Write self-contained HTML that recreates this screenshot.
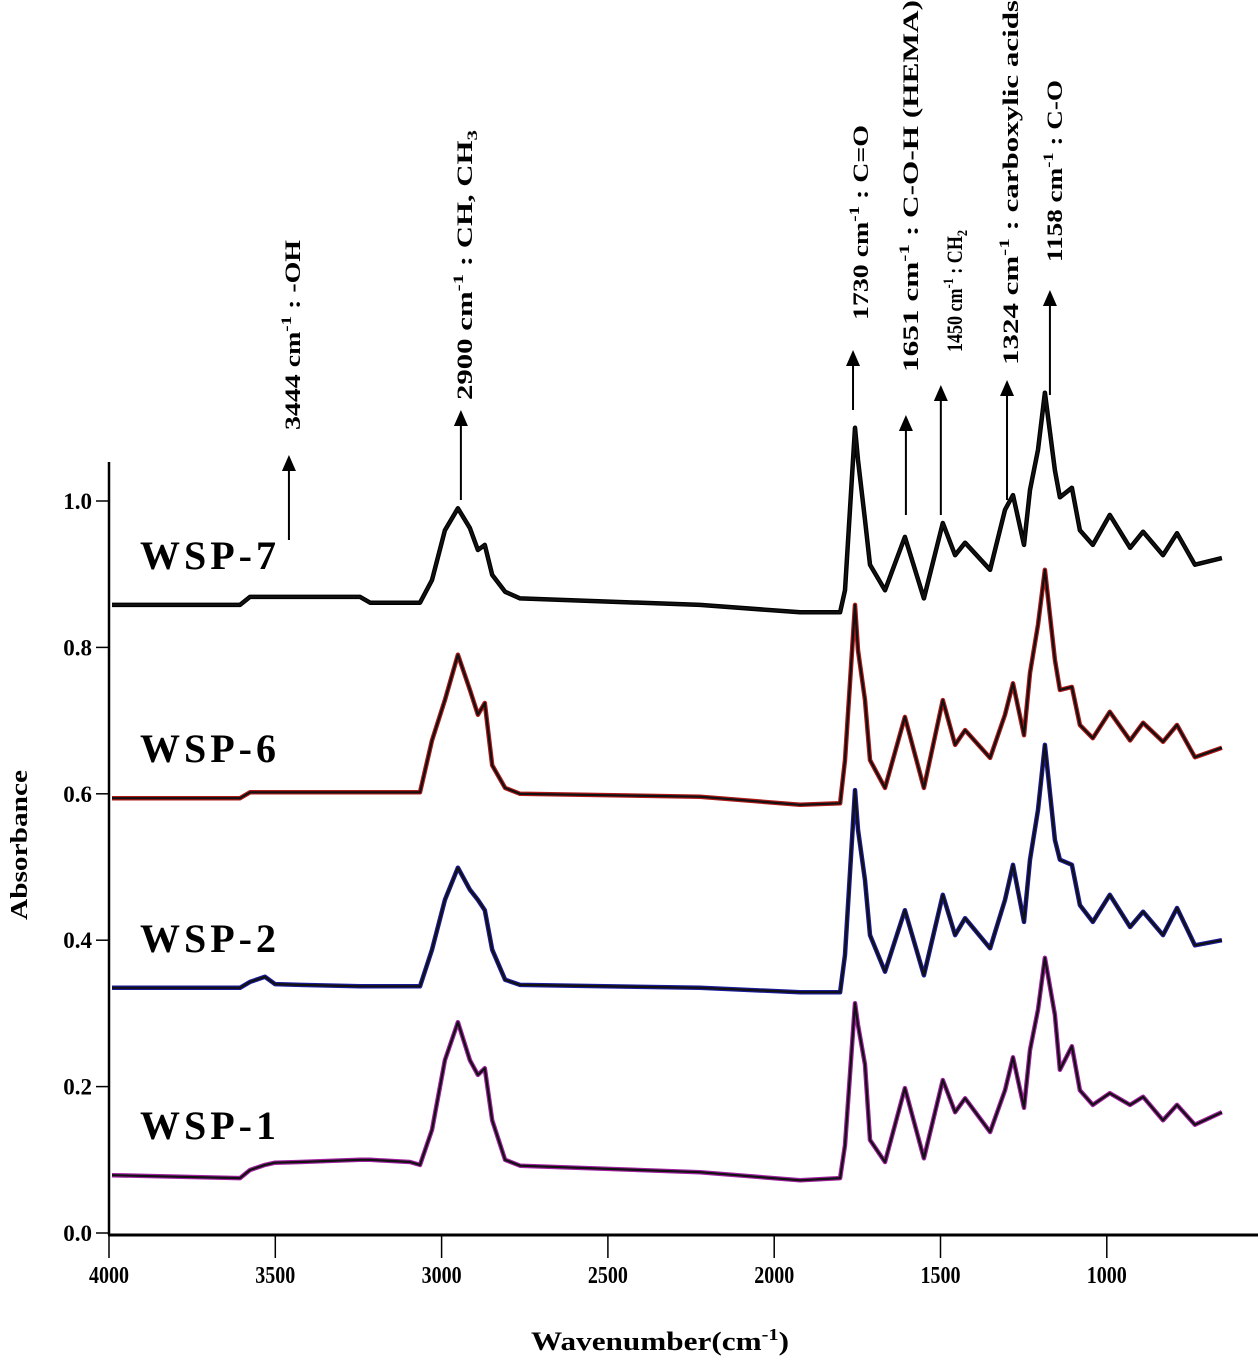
<!DOCTYPE html>
<html><head><meta charset="utf-8"><style>
html,body{margin:0;padding:0;background:#fff;}
svg{display:block;font-family:"Liberation Serif",serif;font-weight:bold;}
</style></head><body>
<svg id="chart" width="1260" height="1361" viewBox="0 0 1260 1361" xmlns="http://www.w3.org/2000/svg">
<g id="axes"></g>
<g id="series"></g>
<g id="annot"></g>
<text x="660" y="1350" text-anchor="middle" font-size="26" textLength="258" lengthAdjust="spacingAndGlyphs">Wavenumber(cm<tspan dy="-10" font-size="17">-1</tspan><tspan dy="10">)</tspan></text>
<text transform="translate(27,845) rotate(-90)" text-anchor="middle" font-size="24" textLength="150" lengthAdjust="spacingAndGlyphs">Absorbance</text>
</svg>
<script>
const wavenumbers = [3991,3606,3576,3531,3501,3426,3245,3215,3095,3065,3029,2990,2951,2915,2891,2870,2848,2809,2764,2223,1922,1802,1787,1757,1748,1727,1712,1667,1607,1550,1493,1456,1426,1351,1306,1282,1249,1231,1207,1186,1156,1141,1105,1081,1042,991,930,891,831,789,735,654];
const wsp7 = [0.858,0.858,0.869,0.869,0.869,0.869,0.869,0.861,0.861,0.861,0.892,0.960,0.990,0.963,0.933,0.940,0.899,0.876,0.867,0.858,0.848,0.848,0.878,1.100,1.056,0.974,0.913,0.878,0.951,0.867,0.970,0.926,0.943,0.906,0.988,1.008,0.940,1.015,1.070,1.148,1.042,1.005,1.018,0.960,0.940,0.981,0.936,0.958,0.926,0.956,0.913,0.922];
const wsp6 = [0.594,0.594,0.602,0.602,0.602,0.602,0.602,0.602,0.602,0.602,0.673,0.728,0.790,0.742,0.708,0.724,0.639,0.608,0.600,0.596,0.585,0.587,0.646,0.858,0.796,0.728,0.646,0.608,0.705,0.608,0.728,0.667,0.687,0.649,0.708,0.751,0.680,0.765,0.831,0.906,0.783,0.742,0.746,0.694,0.676,0.712,0.673,0.697,0.671,0.694,0.650,0.663];
const wsp2 = [0.335,0.335,0.343,0.350,0.340,0.339,0.337,0.337,0.337,0.337,0.387,0.455,0.499,0.469,0.455,0.441,0.387,0.346,0.339,0.335,0.329,0.329,0.380,0.605,0.551,0.482,0.407,0.357,0.441,0.352,0.462,0.407,0.430,0.389,0.455,0.503,0.425,0.510,0.578,0.667,0.537,0.510,0.503,0.448,0.425,0.462,0.418,0.439,0.407,0.444,0.393,0.400];
const wsp1 = [0.079,0.075,0.086,0.093,0.096,0.097,0.100,0.100,0.097,0.093,0.141,0.236,0.288,0.236,0.216,0.225,0.154,0.100,0.092,0.083,0.072,0.075,0.120,0.314,0.284,0.230,0.127,0.097,0.198,0.102,0.209,0.165,0.184,0.138,0.195,0.240,0.171,0.250,0.305,0.376,0.298,0.223,0.255,0.195,0.175,0.191,0.175,0.186,0.154,0.175,0.148,0.165];
const seriesNames = ["WSP-7","WSP-6","WSP-2","WSP-1"];
const seriesColors = ["#000000","#b01818","#1a1a9a","#a020a0"];
const xTicks = [4000,3500,3000,2500,2000,1500,1000];
const yTicks = [0.0,0.2,0.4,0.6,0.8,1.0];
const peakWns = [3444,2900,1730,1651,1450,1324,1158];
const arrowWns = [3459,2942,1763,1604,1499,1300,1171];

const NS="http://www.w3.org/2000/svg";
function X(w){return 109+(4000-w)*166.3/500;}
function Y(a){return 1233-a*732;}
function mk(tag,attrs,parent){const e=document.createElementNS(NS,tag);for(const k in attrs)e.setAttribute(k,attrs[k]);parent.appendChild(e);return e;}

const axes=document.getElementById('axes');
let e=mk('line',{x1:109,y1:462,x2:109,y2:1235,stroke:'#000','stroke-width':2.5},axes);


e=mk('line',{x1:108,y1:1235,x2:1258,y2:1235,stroke:'#000','stroke-width':3},axes);


xTicks.forEach(t=>{
  const x=X(t);
  const l=mk('line',{x1:x,y1:1235,x2:x,y2:1258,stroke:'#000','stroke-width':1.5},axes);
  
  
  const tx=mk('text',{x:x,y:1283,'text-anchor':'middle','font-size':24,textLength:40,lengthAdjust:'spacingAndGlyphs'},axes);
  tx.textContent=t;
  
  
});
yTicks.forEach(t=>{
  const y=Y(t);
  const l=mk('line',{x1:96,y1:y,x2:109,y2:y,stroke:'#000','stroke-width':1.5},axes);
  
  
  const tx=mk('text',{x:92,y:y+8,'text-anchor':'end','font-size':23},axes);
  tx.textContent=t.toFixed(1);
  
  
});

const sg=document.getElementById('series');
const allSeries=[wsp7,wsp6,wsp2,wsp1];
allSeries.forEach((vals,i)=>{
  let d='';
  for(let k=0;k<wavenumbers.length;k++){
    const x=X(wavenumbers[k]).toFixed(1), y=Y(vals[k]).toFixed(1);
    d+=(k?'L':'M')+x+' '+y;
  }
  const p1=mk('path',{d:d,fill:'none',stroke:seriesColors[i],'stroke-width':4.5,'stroke-linejoin':'round'},sg);
  
  
  const p2=mk('path',{d:d,fill:'none',stroke:'#111','stroke-width':2.2,'stroke-linejoin':'round'},sg);
  
  
  const lb=mk('text',{x:140,y:Y(vals[0])-36,'font-size':40,'letter-spacing':'4'},sg);
  lb.textContent=seriesNames[i];
  
  
});

const an=document.getElementById('annot');
const arrowLayout=[[540,455],[500,410],[410,350],[515,415],[515,385],[500,380],[395,290]];
const labelLayout=[[300,430,190],[472,400,270],[868,320,195],[918,372,372],[962,352,122],[1018,365,365],[1062,262,182]];
const labelTexts=[
 ['3444 cm','-1',' : -OH',''],
 ['2900 cm','-1',' : CH, CH','3'],
 ['1730 cm','-1',' : C=O',''],
 ['1651 cm','-1',' : C-O-H  (HEMA)',''],
 ['1450 cm','-1',' : CH','2'],
 ['1324 cm','-1',' : carboxylic  acids',''],
 ['1158 cm','-1',' : C-O','']];
peakWns.forEach((w,i)=>{
  const x=X(arrowWns[i]);
  const [y1,y2]=arrowLayout[i];
  const l=mk('line',{x1:x,y1:y1,x2:x,y2:y2+12,stroke:'#000','stroke-width':2},an);
  
  
  const h=mk('polygon',{points:`${x-7},${y2+16} ${x+7},${y2+16} ${x},${y2}`,fill:'#000'},an);
  
  
  const [lx,ly,len]=labelLayout[i];
  const t=mk('text',{transform:`translate(${lx},${ly}) rotate(-90)`,'font-size':22,textLength:len,lengthAdjust:'spacingAndGlyphs'},an);
  
  
  const p=labelTexts[i];
  t.appendChild(document.createTextNode(p[0]));
  const s=mk('tspan',{dy:-9,'font-size':15},t); s.textContent=p[1];
  const r=mk('tspan',{dy:9},t); r.textContent=p[2];
  if(p[3]){const q=mk('tspan',{dy:5,'font-size':15},t);q.textContent=p[3];}
});
</script>
</body></html>
